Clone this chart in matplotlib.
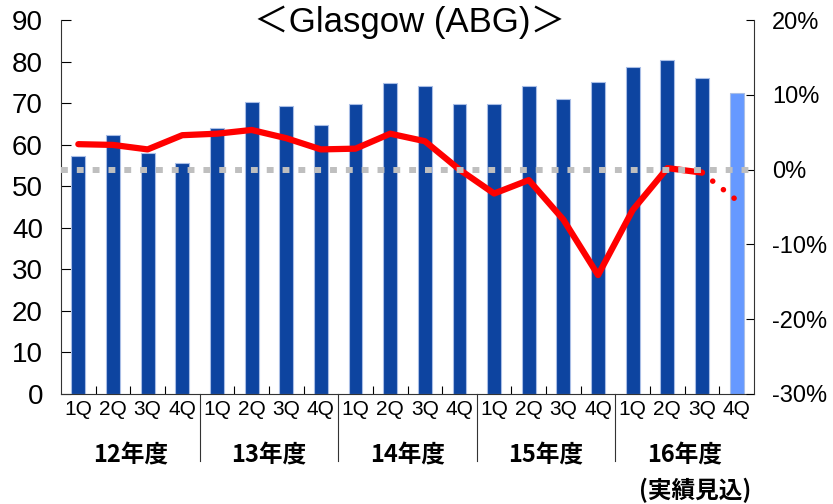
import matplotlib
matplotlib.use("Agg")
import matplotlib.pyplot as plt
import matplotlib.transforms as mtransforms
import numpy as np

# ── data ──────────────────────────────────────────────────────────────────────
quarters = ["1Q", "2Q", "3Q", "4Q"] * 5
years = ["12年度", "13年度", "14年度", "15年度", "16年度"]
forecast_note = "(実績見込)"

volume = [57.3, 62.4, 58.0, 55.6,
          64.1, 70.2, 69.4, 64.7,
          69.7, 74.8, 74.0, 69.7,
          69.9, 74.1, 70.9, 75.2,
          78.6, 80.4, 76.1, 72.4]

growth = [3.4, 3.3, 2.7, 4.6,
          4.8, 5.3, 4.2, 2.7,
          2.8, 4.8, 3.8, 0.0,
          -3.2, -1.4, -6.7, -14.1,
          -5.4, 0.2, -0.4, -4.1]

DARK = "#0D44A0"
LIGHT = "#6699FF"
RED = "#FF0000"
GREY = "#BFBFBF"

FONT = ["Liberation Sans", "Noto Sans CJK JP"]
CJK = ["Noto Sans CJK JP", "DejaVu Sans"]

n = len(volume)
x = np.arange(n) + 0.5

fig = plt.figure(figsize=(8.33, 5.04), dpi=100)
ax = fig.add_axes([61 / 833, 1 - 394 / 504, 693 / 833, 374 / 504])

# ── bars (left axis) ─────────────────────────────────────────────────────────
colors = [DARK] * (n - 1) + [LIGHT]
ax.bar(x, volume, width=0.4, color=colors, edgecolor="#A9BEE6", linewidth=0.8, zorder=2)
ax.set_xlim(0, n)
ax.set_ylim(0, 90)
ax.set_yticks(range(0, 91, 10))
ax.tick_params(axis="y", direction="in", length=7, pad=13, labelsize=20)
for lab in ax.get_yticklabels():
    lab.set_family(FONT)

ax.set_xticks(x)
ax.set_xticklabels(quarters, family=FONT, fontsize=15)
ax.tick_params(axis="x", which="major", length=0, pad=4)
ax.set_xticks([i for i in range(1, n + 1) if i % 4], minor=True)
ax.tick_params(axis="x", which="minor", direction="in", length=6, width=0.8)

for side in ("top", "right"):
    ax.spines[side].set_visible(False)
ax.spines["left"].set_color("#333333")
ax.spines["bottom"].set_color("#333333")

# year separators and labels below the axis
trans = mtransforms.blended_transform_factory(ax.transData, ax.transAxes)
for b in range(4, n, 4):
    ax.plot([b, b], [0, -0.178], transform=trans, color="#333333", lw=0.8, clip_on=False)
for k, yr in enumerate(years):
    ax.text(4 * k + 2, -0.165, yr, transform=trans, ha="center", va="center",
            fontsize=17, fontweight="bold", family=CJK)
ax.text(18.3, -0.258, forecast_note, transform=trans, ha="center", va="center",
        fontsize=17, fontweight="bold", family=CJK)

# ── growth line (right axis) ─────────────────────────────────────────────────
ax2 = ax.twinx()
ax2.set_ylim(-30, 20)
ax2.set_yticks(range(-30, 21, 10))
ax2.set_yticklabels([f"{v}%" for v in range(-30, 21, 10)], family=FONT, fontsize=17)
ax2.tick_params(axis="y", direction="in", length=6, pad=13)
for side in ("top", "left", "bottom"):
    ax2.spines[side].set_visible(False)
ax2.spines["right"].set_color("#333333")

ax2.axhline(0, color=GREY, lw=4.3, linestyle=(0, (1.15, 1.5)),
            dash_capstyle="butt", zorder=3)
ax2.plot(x[:-1], growth[:-1], color=RED, lw=4.5, solid_capstyle="round",
         solid_joinstyle="round", zorder=2)
# forecast segment: round dots
ax2.plot(x[-2:], growth[-2:], color=RED, lw=4, linestyle=(0, (0.01, 2.45)),
         dash_capstyle="round", zorder=2)

fig.text(410 / 833, 1 - 22 / 504, "＜Glasgow (ABG)＞", ha="center", va="center",
         fontsize=25, family=FONT)

fig.savefig("out.png", dpi=100)
